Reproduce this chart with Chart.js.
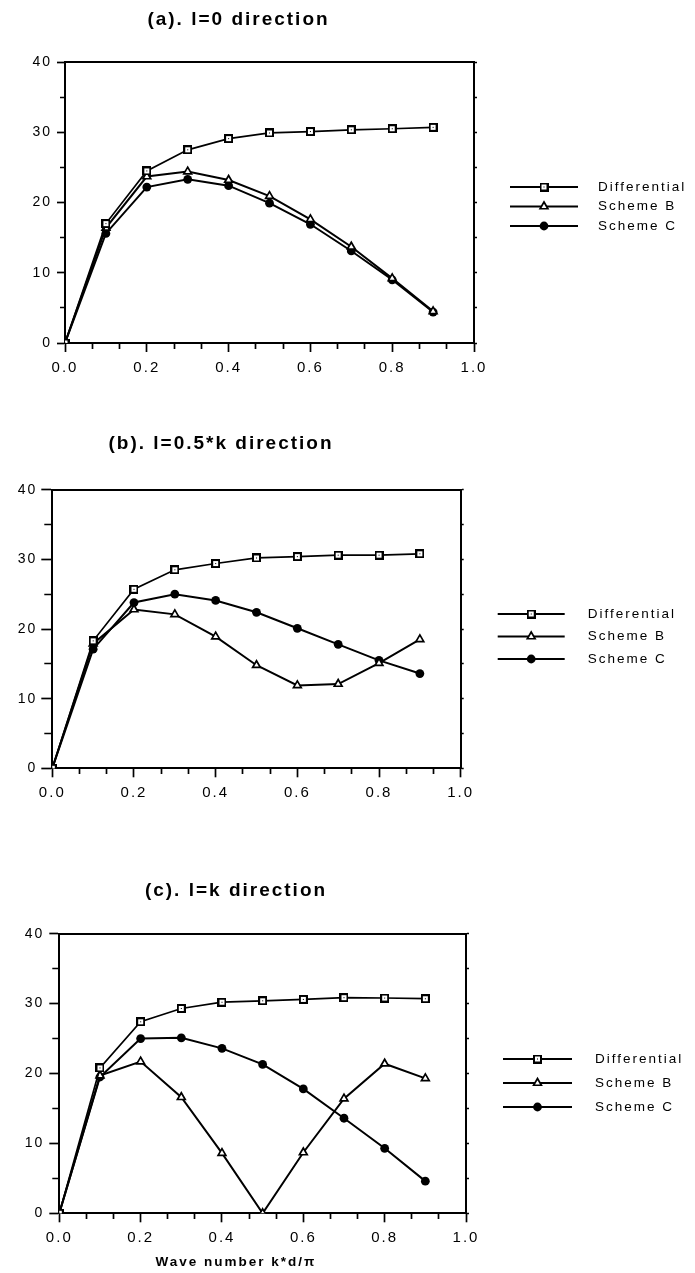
<!DOCTYPE html>
<html>
<head>
<meta charset="utf-8">
<script src="https://cdn.jsdelivr.net/npm/chart.js@4.4.0/dist/chart.umd.min.js"></script>
<style>
  body { margin: 0; background: #fff; }
  canvas { position: absolute; left: 0; }
</style>
</head>
<body>
<canvas id="chartA" width="695" height="390" style="top:0px"></canvas>
<canvas id="chartB" width="695" height="440" style="top:424px"></canvas>
<canvas id="chartC" width="695" height="402" style="top:871px"></canvas>
<script>
// wave number k*d/pi
const waveNumber = [0.0, 0.1, 0.2, 0.3, 0.4, 0.5, 0.6, 0.7, 0.8, 0.9];
const seriesNames = ["Differential", "Scheme B", "Scheme C"];
const xTickLabels = ["0.0", "0.2", "0.4", "0.6", "0.8", "1.0"];
const yTickLabels = ["0", "10", "20", "30", "40"];

// (a) l=0
const diffA = [0, 17.0, 24.5, 27.5, 29.1, 29.9, 30.1, 30.35, 30.5, 30.7];
const schemeBA = [0, 16.4, 23.7, 24.4, 23.2, 20.9, 17.6, 13.7, 9.2, 4.5];
const schemeCA = [0, 15.6, 22.2, 23.3, 22.4, 19.9, 16.9, 13.1, 9.0, 4.4];

// (b) l=0.5*k
const diffB = [0, 18.3, 25.7, 28.5, 29.4, 30.2, 30.4, 30.6, 30.6, 30.8];
const schemeBB = [0, 17.9, 22.8, 22.1, 18.9, 14.8, 11.9, 12.1, 15.1, 18.5];
const schemeCB = [0, 17.1, 23.8, 25.0, 24.1, 22.4, 20.1, 17.8, 15.5, 13.6];

// (c) l=k
const diffC = [0, 20.8, 27.4, 29.3, 30.2, 30.4, 30.6, 30.85, 30.8, 30.7];
const schemeBC = [0, 19.7, 21.7, 16.6, 8.6, 0, 8.7, 16.4, 21.4, 19.3];
const schemeCC = [0, 19.5, 25.0, 25.1, 23.6, 21.3, 17.8, 13.6, 9.3, 4.6];

const FONT = "'Liberation Sans', Arial, Helvetica, sans-serif";
Chart.defaults.font.family = FONT;
Chart.defaults.color = "#000";

// open square with a dot in the middle
const squareMark = document.createElement("canvas");
squareMark.width = 9;
squareMark.height = 9;
(function () {
    const c = squareMark.getContext("2d");
    c.fillStyle = "#000";
    c.fillRect(0, 0, 9, 9);
    c.fillStyle = "#fff";
    c.fillRect(2, 2, 5, 5);
    c.fillStyle = "#000";
    c.fillRect(4, 4, 1, 1);
})();

// old printout look: spaced letters
const spacing = {
    id: "spacing",
    beforeDraw(chart) {
        chart.ctx.letterSpacing = "2px";
    },
};

// line + marker legend to the right of the plot
const sideLegend = {
    id: "sideLegend",
    afterDraw(chart, args, opts) {
        const { ctx, chartArea } = chart;
        const sets = chart.data.datasets;
        const midY = (chartArea.top + chartArea.bottom) / 2 + opts.dy;
        const x0 = chartArea.right + opts.offset;
        sets.forEach((ds, i) => {
            const y = midY + (i - (sets.length - 1) / 2) * opts.rowGap;
            ctx.save();
            ctx.strokeStyle = "#000";
            ctx.lineWidth = 2;
            ctx.beginPath();
            ctx.moveTo(x0, y);
            ctx.lineTo(x0 + opts.lineLen, y);
            ctx.stroke();
            ctx.fillStyle = ds.pointBackgroundColor || "#000";
            ctx.lineWidth = ds.pointBorderWidth || 1;
            Chart.helpers.drawPoint(ctx, {
                pointStyle: ds.pointStyle,
                radius: ds.pointRadius,
                borderWidth: ds.pointBorderWidth || 0,
                rotation: 0,
            }, x0 + opts.lineLen / 2, y);
            ctx.fillStyle = "#000";
            ctx.font = "13.5px " + FONT;
            ctx.textAlign = "left";
            ctx.textBaseline = "middle";
            ctx.fillText(ds.label, x0 + opts.lineLen + opts.gap, y);
            ctx.restore();
        });
    },
};

function points(values) {
    return waveNumber.map((x, i) => ({ x: x, y: values[i] }));
}

function makeChart(id, title, diff, schemeB, schemeC, f) {
    new Chart(document.getElementById(id), {
        type: "line",
        data: {
            datasets: [
                {
                    label: seriesNames[0],
                    data: points(diff),
                    borderColor: "#000",
                    borderWidth: 1.7,
                    pointStyle: squareMark,
                    pointRadius: 4,
                    pointBackgroundColor: "#fff",
                    pointBorderWidth: 0,
                },
                {
                    label: seriesNames[1],
                    data: points(schemeB),
                    borderColor: "#000",
                    borderWidth: 2,
                    pointStyle: "triangle",
                    pointRadius: 4.5,
                    pointBackgroundColor: "#fff",
                    pointBorderColor: "#000",
                    pointBorderWidth: 1.7,
                },
                {
                    label: seriesNames[2],
                    data: points(schemeC),
                    borderColor: "#000",
                    borderWidth: 2,
                    pointStyle: "circle",
                    pointRadius: 4.4,
                    pointBackgroundColor: "#000",
                    pointBorderColor: "#000",
                    pointBorderWidth: 0,
                },
            ],
        },
        options: {
            responsive: false,
            animation: false,
            events: [],
            elements: { line: { tension: 0, fill: false } },
            layout: {
                padding: { left: f.padLeft, right: f.padRight, top: 0, bottom: f.padBottom },
            },
            plugins: {
                legend: { display: false },
                tooltip: { enabled: false },
                title: {
                    display: true,
                    text: title,
                    color: "#000",
                    font: { size: 19, weight: "bold" },
                    padding: { top: 8, bottom: f.titleGap },
                },
                subtitle: {
                    display: !!f.xLabel,
                    text: f.xLabel || "",
                    position: "bottom",
                    color: "#000",
                    font: { size: 13.5, weight: "bold" },
                    padding: { top: 8.3, bottom: 0 },
                },
                sideLegend: f.legend,
            },
            scales: {
                x: {
                    type: "linear",
                    min: 0,
                    max: 1,
                    border: { display: true, color: "#000", width: 2 },
                    grid: {
                        drawOnChartArea: false,
                        tickLength: 9,
                        tickWidth: 1.7,
                        tickColor: "#000",
                        tickBorderDash: (c) => (c.index % 3 ? [5, 100] : []),
                    },
                    ticks: {
                        stepSize: 1 / 15,
                        autoSkip: false,
                        maxRotation: 0,
                        padding: 6.5,
                        color: "#000",
                        font: { size: 15 },
                        callback: (v, i) => (i % 3 === 0 ? xTickLabels[i / 3] : ""),
                    },
                    afterFit: (s) => { s.height = 33; },
                },
                x2: {
                    type: "linear",
                    position: "top",
                    min: 0,
                    max: 1,
                    border: { display: true, color: "#000", width: 2 },
                    grid: { display: false },
                    ticks: { display: false },
                },
                y: {
                    min: 0,
                    max: 40,
                    border: { display: true, color: "#000", width: 2 },
                    grid: {
                        drawOnChartArea: false,
                        tickLength: f.yTick,
                        tickWidth: 1.7,
                        tickColor: "#000",
                        tickBorderDash: (c) =>
                            c.index % 2 ? [0, f.yTick - 1 - f.yMinor, f.yMinor, 100] : [],
                    },
                    ticks: {
                        stepSize: 5,
                        autoSkip: false,
                        padding: f.yPad,
                        color: "#000",
                        font: { size: 14 },
                        callback: (v, i) => (i % 2 === 0 ? yTickLabels[i / 2] : ""),
                    },
                    afterFit: (s) => { s.width = f.yWidth; },
                },
                y2: {
                    position: "right",
                    min: 0,
                    max: 40,
                    border: { display: true, color: "#000", width: 2 },
                    grid: {
                        drawOnChartArea: false,
                        tickLength: 3,
                        tickWidth: 1.5,
                        tickColor: "#000",
                    },
                    ticks: { display: false, stepSize: 5 },
                    afterFit: (s) => { s.width = 3; },
                },
            },
        },
        plugins: [spacing, sideLegend],
    });
}

makeChart("chartA", "(a). l=0 direction", diffA, schemeBA, schemeCA, {
    padLeft: 0, padRight: 218, padBottom: 14, yWidth: 65, titleGap: 23.2,
    yTick: 8, yMinor: 4, yPad: 5,
    legend: { offset: 36, lineLen: 68, gap: 20, rowGap: 19.5, dy: 4 },
});

makeChart("chartB", "(b). l=0.5*k direction", diffB, schemeBB, schemeCB, {
    padLeft: -21.7, padRight: 231.3, padBottom: 62.7, yWidth: 74, titleGap: 26.9,
    yTick: 11, yMinor: 7, yPad: 4,
    legend: { offset: 37, lineLen: 67, gap: 23, rowGap: 22.5, dy: 7.5 },
});

makeChart("chartC", "(c). l=k direction", diffC, schemeBC, schemeCC, {
    padLeft: 3, padRight: 226, padBottom: 2.2, yWidth: 56.3, titleGap: 23.9,
    yTick: 10, yMinor: 6, yPad: 5,
    xLabel: "Wave number k*d/\u03c0",
    legend: { offset: 37, lineLen: 69, gap: 23, rowGap: 24, dy: 9.5 },
});
</script>
</body>
</html>
